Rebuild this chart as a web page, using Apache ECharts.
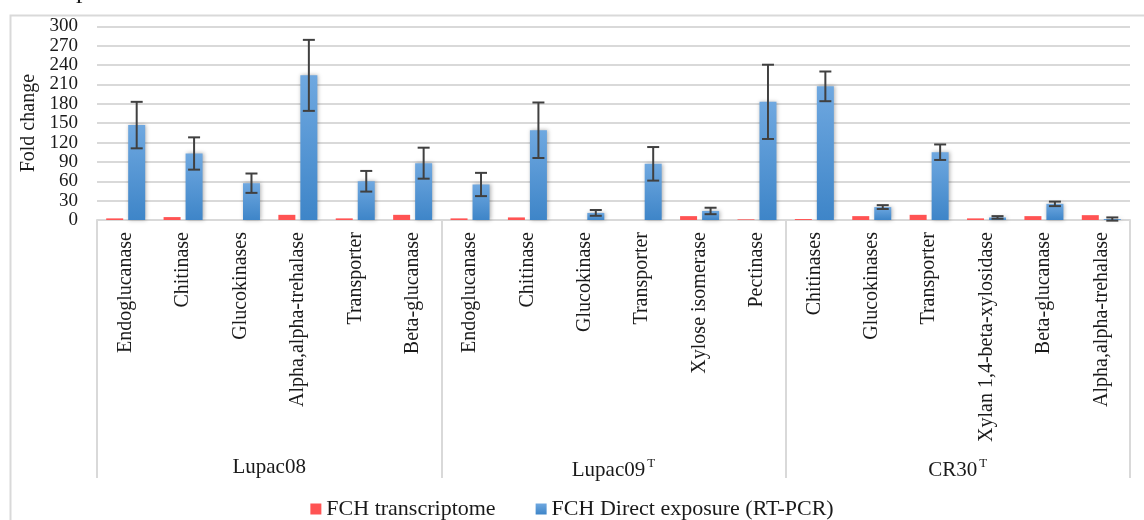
<!DOCTYPE html>
<html>
<head>
<meta charset="utf-8">
<title>Fold change</title>
<script src="https://cdn.jsdelivr.net/npm/echarts@6/dist/echarts.min.js"></script>
<style>
  html, body { margin: 0; padding: 0; background: #ffffff; }
  #chart { width: 1144px; height: 520px; }
</style>
</head>
<body>
<div id="chart"></div>
<script>
// Genes tested per strain (six per strain, in plot order)
const categories = [
  'Endoglucanase', 'Chitinase', 'Glucokinases', 'Alpha,alpha-trehalase', 'Transporter', 'Beta-glucanase',
  'Endoglucanase', 'Chitinase', 'Glucokinase', 'Transporter', 'Xylose isomerase', 'Pectinase',
  'Chitinases', 'Glucokinases', 'Transporter', 'Xylan 1,4-beta-xylosidase', 'Beta-glucanase', 'Alpha,alpha-trehalase'
];

// Strain groups and their superscript marks
const groups = ['Lupac08', 'Lupac09', 'CR30'];
const groupSup = ['', 'T', 'T'];

// Fold change from the transcriptome
const fchTranscriptome = [2.5, 4.5, 0, 8, 2.5, 8, 2.5, 4, 0, 0, 6, 1, 1.5, 6, 8, 2.5, 6, 7.5];

// Fold change from direct exposure (RT-PCR) and its error
const fchDirect = [147, 103, 57, 224, 60, 88, 55, 139, 11, 87, 14, 183, 207, 20, 105, 4, 25, 1.5];
const fchDirectErr = [36, 25, 15, 55, 16, 24, 18, 43, 4.5, 26, 5, 57.5, 23, 3, 12, 2, 3.5, 2.5];

// Y axis ticks
const yMin = 0, yMax = 300, yStep = 30;

const FONT = '"Liberation Serif", "Times New Roman", serif';
const TEXT = '#1a1a1a';
const GRID_LINE = '#d9d9d9';
const BAR_W = 17;
const BAR_GAP_PX = 5;

const errData = fchDirect.map((v, i) => [i, v - fchDirectErr[i], v + fchDirectErr[i]]);

const chart = echarts.init(document.getElementById('chart'), null, { renderer: 'canvas' });

chart.setOption({
  backgroundColor: '#ffffff',
  animation: false,
  textStyle: { fontFamily: FONT },
  graphic: [
    {
      type: 'rect',
      silent: true,
      shape: { x: 10.5, y: 15.5, width: 1200, height: 600 },
      style: { fill: 'none', stroke: GRID_LINE, lineWidth: 2 }
    },
    {
      type: 'text',
      silent: true,
      left: 76,
      top: -22,
      style: { text: 'p', font: '26px ' + FONT, fill: TEXT }
    }
  ],
  grid: { left: 97, right: 14, top: 26.3, bottom: 300, containLabel: false },
  legend: {
    top: 493,
    left: 'center',
    icon: 'rect',
    itemWidth: 11,
    itemHeight: 11,
    itemGap: 40,
    textStyle: { fontFamily: FONT, fontSize: 22, color: TEXT },
    data: ['FCH transcriptome', 'FCH Direct exposure (RT-PCR)']
  },
  xAxis: [
    {
      type: 'category',
      data: categories,
      axisLine: { show: true, lineStyle: { color: GRID_LINE, width: 2 } },
      axisTick: { show: false },
      axisLabel: {
        interval: 0,
        rotate: 90,
        margin: 12,
        fontFamily: FONT,
        fontSize: 20,
        color: TEXT
      }
    },
    {
      type: 'category',
      data: groups,
      position: 'bottom',
      axisLine: { show: false },
      axisTick: { show: true, length: 258, lineStyle: { color: GRID_LINE, width: 2 } },
      axisLabel: {
        interval: 0,
        margin: 237,
        fontFamily: FONT,
        fontSize: 21,
        color: TEXT,
        formatter: (name, idx) => groupSup[idx] ? name + '{sup|' + groupSup[idx] + '}' : name,
        rich: {
          sup: { fontFamily: FONT, fontSize: 13, color: TEXT, padding: [0, 0, 13, 2] }
        }
      }
    }
  ],
  yAxis: {
    type: 'value',
    min: yMin,
    max: yMax,
    interval: yStep,
    name: 'Fold change',
    nameLocation: 'middle',
    nameGap: 53,
    nameTextStyle: { fontFamily: FONT, fontSize: 20, color: TEXT },
    axisLine: { show: false },
    axisTick: { show: false },
    splitLine: { lineStyle: { color: GRID_LINE, width: 2 } },
    axisLabel: {
      margin: 19,
      fontFamily: FONT,
      fontSize: 19,
      color: TEXT,
      showMinLabel: true,
      showMaxLabel: true
    }
  },
  series: [
    {
      name: 'FCH transcriptome',
      type: 'bar',
      xAxisIndex: 0,
      data: fchTranscriptome,
      barWidth: BAR_W,
      barGap: (BAR_GAP_PX / BAR_W * 100) + '%',
      itemStyle: { color: '#ff5353' }
    },
    {
      name: 'FCH Direct exposure (RT-PCR)',
      type: 'bar',
      xAxisIndex: 0,
      data: fchDirect,
      barWidth: BAR_W,
      itemStyle: {
        color: new echarts.graphic.LinearGradient(0, 0, 0, 1, [
          { offset: 0, color: '#6fa8e0' },
          { offset: 1, color: '#3e85c8' }
        ]),
        shadowBlur: 4,
        shadowColor: 'rgba(0,0,0,0.3)',
        shadowOffsetX: 1,
        shadowOffsetY: 0
      }
    },
    {
      name: 'error',
      type: 'custom',
      xAxisIndex: 0,
      data: errData,
      z: 5,
      renderItem: (params, api) => {
        const idx = api.value(0);
        const lo = api.coord([idx, api.value(1)]);
        const hi = api.coord([idx, api.value(2)]);
        const dx = (BAR_W + BAR_GAP_PX) / 2;
        const x = lo[0] + dx;
        const cap = 6;
        const style = { stroke: '#404040', lineWidth: 2 };
        return {
          type: 'group',
          children: [
            { type: 'line', shape: { x1: x, y1: lo[1], x2: x, y2: hi[1] }, style },
            { type: 'line', shape: { x1: x - cap, y1: hi[1], x2: x + cap, y2: hi[1] }, style },
            { type: 'line', shape: { x1: x - cap, y1: lo[1], x2: x + cap, y2: lo[1] }, style }
          ]
        };
      }
    }
  ]
});
</script>
</body>
</html>
